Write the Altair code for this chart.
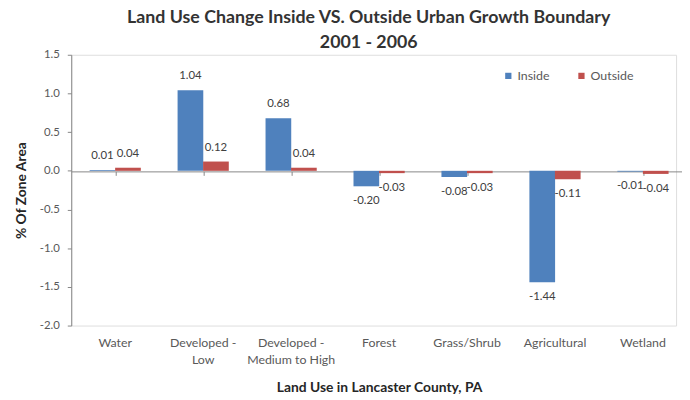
import altair as alt
import pandas as pd

categories = ["Water", "Developed - Low", "Developed - Medium to High", "Forest",
              "Grass/Shrub", "Agricultural", "Wetland"]
inside = [0.01, 1.04, 0.68, -0.20, -0.08, -1.44, -0.01]
outside = [0.04, 0.12, 0.04, -0.03, -0.03, -0.11, -0.04]
series = ["Inside", "Outside"]
colors = ["#4F81BD", "#C0504D"]
y_ticks = [-2.0, -1.5, -1.0, -0.5, 0.0, 0.5, 1.0, 1.5]

rows = []
for c, a, b in zip(categories, inside, outside):
    rows.append({"category": c, "series": "Inside", "value": a})
    rows.append({"category": c, "series": "Outside", "value": b})
df = pd.DataFrame(rows)

FONT = "Lato"
AXC = "#868686"
X_RANGE = [0, 623]

label_expr = ("indexof(datum.label, ' - ') > 0 ? "
              "[slice(datum.label, 0, indexof(datum.label, ' - ')) + ' -', "
              "slice(datum.label, indexof(datum.label, ' - ') + 3)] : datum.label")

xaxis = alt.Axis(orient="bottom", domain=False, ticks=False, grid=False, labelAngle=0,
                 labelExpr=label_expr, labelPadding=11, labelFont=FONT, labelFontSize=12.5,
                 labelColor="#595959", labelLineHeight=17, labelBaseline="top",
                 title="Land Use in Lancaster County, PA", titleFont=FONT,
                 titleFontSize=14, titleFontWeight="bold", titleColor="#262626",
                 titlePadding=15)
X = alt.X("category:N", sort=categories,
          scale=alt.Scale(range=X_RANGE, paddingInner=0.42, paddingOuter=0.21),
          axis=xaxis)
XO = alt.XOffset("series:N", sort=series, scale=alt.Scale(paddingInner=0, paddingOuter=0))
yaxis = alt.Axis(values=y_ticks, format=".1f", grid=False, domainColor=AXC, tickColor=AXC,
                 tickSize=4, labelFont=FONT, labelFontSize=11.5, labelColor="#595959",
                 labelPadding=8, labelOverlap=False, labelFlush=False,
                 labelExpr="replace(datum.label, '\u2212', '-')",
                 title="% Of Zone Area", titleFont=FONT, titleFontSize=14,
                 titleFontWeight="bold", titleColor="#262626", titlePadding=11)
yscale = alt.Scale(domain=[-2.0, 1.5], nice=False, zero=False)
Y = alt.Y("value:Q", scale=yscale, axis=yaxis)

base = alt.Chart(df).transform_calculate(
    label="replace(format(datum.value, '.2f'), '\u2212', '-')")

bars = base.mark_bar(size=26).encode(
    x=X, xOffset=XO, y=Y, y2=alt.datum(0),
    color=alt.Color("series:N", sort=series,
                    scale=alt.Scale(domain=series, range=colors),
                    legend=alt.Legend(orient="none", legendX=436, legendY=15,
                                      direction="horizontal", title=None,
                                      symbolType="square", symbolSize=40,
                                      symbolStrokeWidth=0, labelFont=FONT,
                                      labelFontSize=12.5, labelColor="#595959",
                                      columnPadding=26, labelOffset=3)),
)

txt_pos = base.transform_filter("datum.value >= 0").mark_text(
    dy=-14, font=FONT, fontSize=11.5, color="#404040").encode(
    x=X, xOffset=XO, y=Y, text="label:N")

txt_neg = base.transform_filter("datum.value < 0").mark_text(
    dy=15, font=FONT, fontSize=11.5, color="#404040").encode(
    x=X, xOffset=XO, y=Y, text="label:N")

main = alt.layer(bars, txt_pos, txt_neg)

ticks = alt.Chart(pd.DataFrame({"category": categories})).mark_point(opacity=0).encode(
    x=alt.X("category:N", sort=categories,
            scale=alt.Scale(range=X_RANGE, paddingInner=0, paddingOuter=0),
            axis=alt.Axis(orient="bottom", offset=-156, labels=False, title=None,
                          domain=True, domainColor=AXC, ticks=True, tickColor=AXC,
                          tickSize=4, bandPosition=0, grid=False)),
    y=alt.Y(datum=0, scale=yscale, axis=yaxis),
)

chart = alt.layer(main, ticks).resolve_scale(x="independent").properties(
    width=612, height=274,
    padding={"left": 64, "top": 45, "right": 6, "bottom": 73},
    autosize=alt.AutoSizeParams(type="none"),
    title=alt.TitleParams(
        text=["Land Use Change Inside VS. Outside Urban Growth Boundary", "2001 - 2006"],
        font=FONT, fontSize=18, fontWeight="bold", color="#333333",
        lineHeight=25, anchor="middle", offset=-3, dx=-5),
).configure_view(stroke=None).configure(background="white")

chart.save("out.html", embed_options={"renderer": "svg", "actions": False})
